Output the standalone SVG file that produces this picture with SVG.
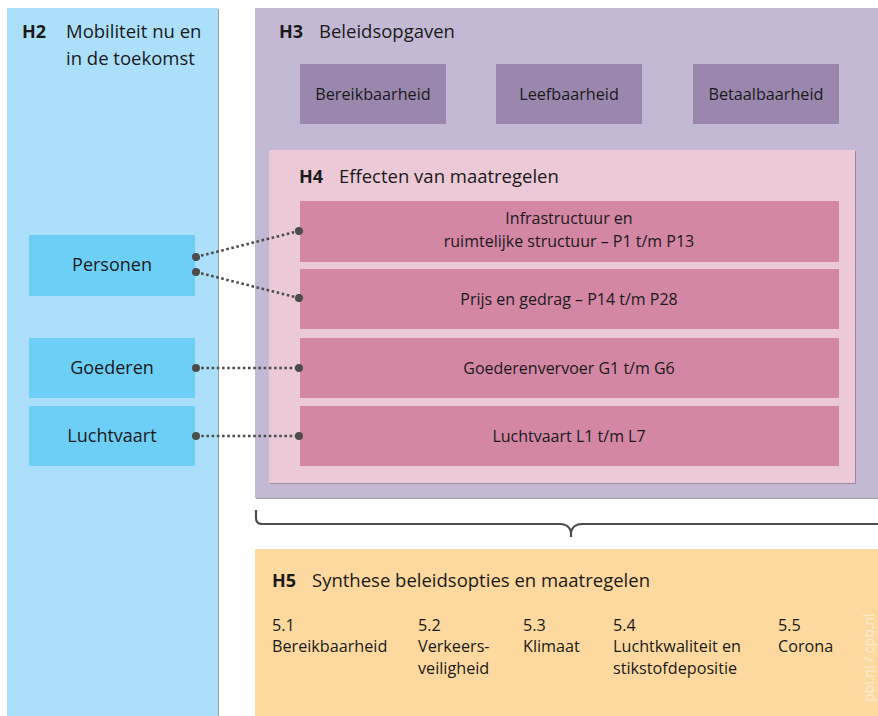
<svg xmlns="http://www.w3.org/2000/svg" width="878" height="716" viewBox="0 0 878 716">
<style>
text{font-family:"Open Sans","Noto Sans","Liberation Sans",sans-serif;fill:#1a1a1a}
.h{font-size:18px;font-weight:bold}
.t{font-size:18.5px}
.n{font-size:16.2px;text-anchor:middle}
.s{font-size:16px;text-anchor:middle}
.l{font-size:18px;text-anchor:middle}
.i{font-size:16.2px}
.top{fill:#9987ad}
.row{fill:#d486a5}
.left{fill:#6dcff6}
.con{fill:none;stroke:#4d4d4d;stroke-width:2.6;stroke-dasharray:2.6 2.6}
</style>
<defs>
<marker id="dot" viewBox="-5 -5 10 10" markerWidth="10" markerHeight="10" markerUnits="userSpaceOnUse" orient="auto">
<circle cx="0" cy="0" r="4" fill="#4d4d4d"/>
</marker>
</defs>
<rect width="878" height="716" fill="#ffffff"/>
<g id="H2">
<rect x="8" y="9" width="211" height="707" fill="#9e9e9e"/>
<rect x="7" y="8" width="211" height="708" fill="#ace0fa"/>
<text x="22" y="38" class="h">H2</text>
<text x="66" y="38" class="t">Mobiliteit nu en</text>
<text x="66" y="65" class="t">in de toekomst</text>
</g>
<g id="H3">
<rect x="256" y="9" width="622" height="490" fill="#9e9e9e"/>
<rect x="255" y="8" width="623" height="490" fill="#c4b9d4"/>
<text x="279" y="38" class="h">H3</text>
<text x="319" y="38" class="t">Beleidsopgaven</text>
</g>
<g id="bereikbaarheid"><rect x="300" y="64" width="146" height="60" class="top"/><text x="373" y="100" class="n">Bereikbaarheid</text></g>
<g id="leefbaarheid"><rect x="496" y="64" width="146" height="60" class="top"/><text x="569" y="100" class="n">Leefbaarheid</text></g>
<g id="betaalbaarheid"><rect x="693" y="64" width="146" height="60" class="top"/><text x="766" y="100" class="n">Betaalbaarheid</text></g>
<g id="H4">
<rect x="270" y="151" width="586" height="333" fill="#9e8a9a"/>
<rect x="269" y="150" width="586" height="333" fill="#ebc9d7"/>
<text x="299" y="183" class="h">H4</text>
<text x="339" y="183" class="t">Effecten van maatregelen</text>
</g>
<g id="infra"><rect x="300" y="201" width="539" height="61" class="row"/><text x="569" y="224" class="s">Infrastructuur en</text><text x="569" y="247" class="s">ruimtelijke structuur – P1 t/m P13</text></g>
<g id="prijs"><rect x="300" y="269" width="539" height="60" class="row"/><text x="569" y="305" class="s">Prijs en gedrag – P14 t/m P28</text></g>
<g id="goederenvervoer"><rect x="300" y="338" width="539" height="60" class="row"/><text x="569" y="374" class="s">Goederenvervoer G1 t/m G6</text></g>
<g id="luchtvaartL"><rect x="300" y="406" width="539" height="60" class="row"/><text x="569" y="442" class="s">Luchtvaart L1 t/m L7</text></g>
<g id="personen"><rect x="29" y="235" width="166" height="61" class="left"/><text x="112" y="271" class="l">Personen</text></g>
<g id="goederen"><rect x="29" y="338" width="166" height="60" class="left"/><text x="112" y="374" class="l">Goederen</text></g>
<g id="luchtvaart"><rect x="29" y="406" width="166" height="60" class="left"/><text x="112" y="442" class="l">Luchtvaart</text></g>
<g id="connectors">
<path class="con" d="M196 257 L299 231" marker-start="url(#dot)" marker-end="url(#dot)"/>
<path class="con" d="M196 272 L299 298" marker-start="url(#dot)" marker-end="url(#dot)"/>
<path class="con" d="M196 368 L299 368" marker-start="url(#dot)" marker-end="url(#dot)"/>
<path class="con" d="M196 436 L299 436" marker-start="url(#dot)" marker-end="url(#dot)"/>
<path d="M256 510 V518 Q256 524 262 524 H560 Q569 524 571 532 Q573 524 582 524 H878 M571 530 V537" fill="none" stroke="#4d4d4d" stroke-width="2.2"/>
</g>
<g id="H5">
<rect x="255" y="549" width="623" height="167" fill="#fdd9a0"/>
<text x="272" y="587" class="h">H5</text>
<text x="312" y="587" class="t">Synthese beleidsopties en maatregelen</text>
<text x="272" y="631" class="i">5.1</text><text x="272" y="652" class="i">Bereikbaarheid</text>
<text x="418" y="631" class="i">5.2</text><text x="418" y="652" class="i">Verkeers-</text><text x="418" y="674" class="i">veiligheid</text>
<text x="523" y="631" class="i">5.3</text><text x="523" y="652" class="i">Klimaat</text>
<text x="613" y="631" class="i">5.4</text><text x="613" y="652" class="i">Luchtkwaliteit en</text><text x="613" y="674" class="i">stikstofdepositie</text>
<text x="778" y="631" class="i">5.5</text><text x="778" y="652" class="i">Corona</text>
<text transform="translate(874 702) rotate(-90)" style="font-size:14px;fill:#ffffff;fill-opacity:0.55">pbl.nl / cpb.nl</text>
</g>
</svg>
